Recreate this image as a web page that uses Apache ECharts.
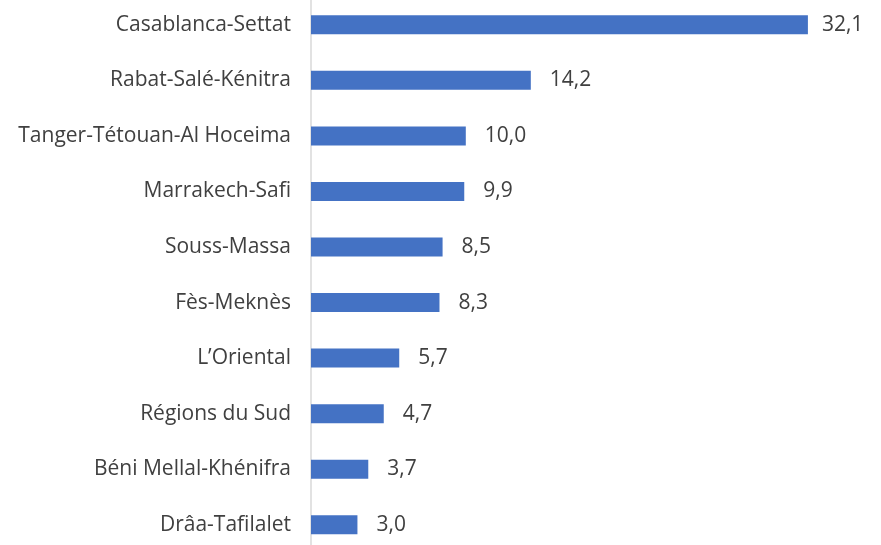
<!DOCTYPE html>
<html>
<head>
<meta charset="utf-8">
<script src="https://cdn.jsdelivr.net/npm/echarts@6/dist/echarts.min.js"></script>
<style>
  html, body { margin: 0; padding: 0; background: #fff; }
  #chart { width: 881px; height: 545px; }
</style>
</head>
<body>
<div id="chart"></div>
<script>
// regions, top to bottom
var regions = [
    'Casablanca-Settat',
    'Rabat-Salé-Kénitra',
    'Tanger-Tétouan-Al Hoceima',
    'Marrakech-Safi',
    'Souss-Massa',
    'Fès-Meknès',
    'L\u2019Oriental',
    'Régions du Sud',
    'Béni Mellal-Khénifra',
    'Drâa-Tafilalet'
];
var shares = [32.1, 14.2, 10.0, 9.9, 8.5, 8.3, 5.7, 4.7, 3.7, 3.0];

var fontName = 'Open Sans';
var myChart = echarts.init(document.getElementById('chart'));

// the longest bar's label sits a bit closer (it is squeezed at the right edge)
var barData = shares.map(function (v, i) {
    return i === 0 ? { value: v, label: { distance: 14 } } : v;
});

var option = {
    animation: false,
    grid: {
        left: 311,
        top: -3,
        width: 35 * 15.48,
        height: 555.5,
        outerBoundsMode: 'none'
    },
    xAxis: {
        type: 'value',
        min: 0,
        max: 35,
        show: false
    },
    yAxis: {
        type: 'category',
        inverse: true,
        data: regions,
        axisLine: { show: true, lineStyle: { color: '#d9d9d9', width: 1.5 } },
        axisTick: { show: false },
        axisLabel: {
            margin: 20,
            color: '#404040',
            fontSize: 21,
            fontFamily: fontName
        }
    },
    series: [{
        type: 'bar',
        data: barData,
        barWidth: 19,
        itemStyle: { color: '#4472c4' },
        label: {
            show: true,
            position: 'right',
            distance: 19,
            color: '#404040',
            fontSize: 21,
            fontFamily: fontName,
            formatter: function (p) {
                return p.value.toFixed(1).replace('.', ',');
            }
        }
    }]
};
myChart.setOption(option);
</script>
</body>
</html>
